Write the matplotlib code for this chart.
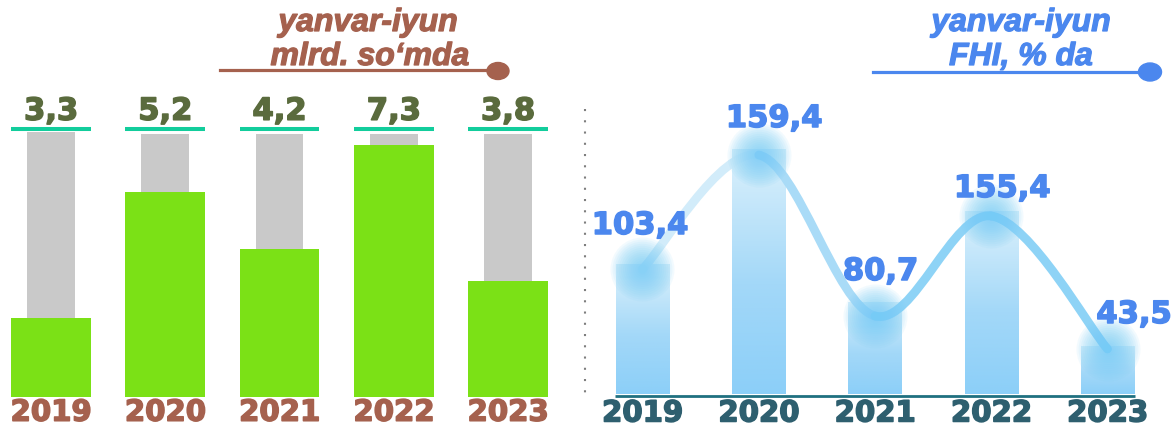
import numpy as np
import matplotlib
matplotlib.use("Agg")
import matplotlib.pyplot as plt
import matplotlib.patheffects as pe
from matplotlib.path import Path
from matplotlib.patches import PathPatch, Ellipse
from matplotlib.colors import LinearSegmentedColormap
from matplotlib.lines import Line2D

# ---------------- data ----------------
years = ["2019", "2020", "2021", "2022", "2023"]
investment = [3.3, 5.2, 4.2, 7.3, 3.8]            # mlrd. so'm (labels)
investment_bar = [29.9, 77.7, 56.1, 95.5, 43.9]   # green bar height, % of grey track
track = [100.4, 99.6, 99.6, 99.6, 99.6]           # grey track height
fhi = [103.4, 159.4, 80.7, 155.4, 43.5]           # FHI, % (labels)
fhi_bar = [130, 245, 92, 183, 48]                 # drawn bar heights
fhi_curve = [125, 239, 78, 178, 45]               # curve anchor heights

W, H = 1174, 428
fig = plt.figure(figsize=(W / 100, H / 100), dpi=100)

BROWN = "#A5614E"
OLIVE = "#5A6B3D"
TEAL = "#12CD9C"
GREEN = "#7BE116"
GREY = "#C9C9C9"
BLUE = "#4B87EE"
SLATE = "#2E5F6F"

def fmt(v):
    return f"{v:.1f}".replace(".", ",")

def heavy(color, w=1.1):
    return [pe.withStroke(linewidth=w, foreground=color)]

NUMFONT = dict(family="DejaVu Sans", fontweight="bold")

# ---------------- left panel ----------------
axL = fig.add_axes([0, 0, 580 / W, 1])
dL, cL, kL, baseL = 114.25, 51, 2.64, 397
axL.set_xlim(-cL / dL, (580 - cL) / dL)
axL.set_ylim((baseL - H) / kL, baseL / kL)
axL.axis("off")
x = np.arange(len(years))
axL.bar(x, track, width=0.42, color=GREY, zorder=1)
axL.bar(x, investment_bar, width=0.70, color=GREEN, zorder=2)
axL.hlines([101.5] * len(x), x - 0.35, x + 0.35, color=TEAL, lw=2.9, zorder=3)
for i, v in enumerate(investment):
    axL.text(i, 105, fmt(v), ha="center", va="baseline", color=OLIVE,
             fontsize=22, path_effects=heavy(OLIVE), **NUMFONT)
    axL.text(i, -9.0, years[i], ha="center", va="baseline", color=BROWN,
             fontsize=21, path_effects=heavy(BROWN), **NUMFONT)

# ---------------- right panel ----------------
axR = fig.add_axes([590 / W, 0, (W - 590) / W, 1])
dR, cR, baseR = 116.25, 642.5, 394
axR.set_xlim((590 - cR) / dR, (W - cR) / dR)
axR.set_ylim(baseR - H, baseR)
axR.axis("off")

cmap = LinearSegmentedColormap.from_list(
    "barg", [(0, "#8CCFF8"), (0.45, "#A3D8F8"), (1, "#DCF1FC")])
grad = np.linspace(0, 1, 256).reshape(-1, 1)
rects = axR.bar(x, fhi_bar, width=0.456, color="none", edgecolor="none")
for r in rects:
    x0, y0 = r.get_x(), r.get_y()
    im = axR.imshow(grad, cmap=cmap, origin="lower", aspect="auto",
                    extent=(x0, x0 + r.get_width(), y0, y0 + r.get_height()),
                    zorder=1)
    im.set_clip_path(r)
axR.set_xlim((590 - cR) / dR, (W - cR) / dR)
axR.set_ylim(baseR - H, baseR)

axR.plot([x[0] - 0.24, x[-1] + 0.24], [-1.5, -1.5], color="#1F7080", lw=2.0,
         solid_capstyle="butt", zorder=2)

# smooth curve (Catmull-Rom -> cubic Bezier, drawn by matplotlib Path)
pts = np.column_stack([x, fhi_curve]).astype(float)
P = np.vstack([pts[0], pts, pts[-1]])
seg_colors = ["#D2ECFA", "#A9DBF7", "#8ED3F6", "#8ED3F6"]
for i in range(len(pts) - 1):
    p0, p1, p2, p3 = P[i], P[i + 1], P[i + 2], P[i + 3]
    c1 = p1 + (p2 - p0) / 6
    c2 = p2 - (p3 - p1) / 6
    path = Path([p1, c1, c2, p2],
                [Path.MOVETO, Path.CURVE4, Path.CURVE4, Path.CURVE4])
    axR.add_patch(PathPatch(path, facecolor="none", edgecolor=seg_colors[i],
                            lw=6.3, capstyle="round", zorder=3))

# glow points
for rad in np.linspace(32, 5, 14):
    axR.scatter(x, fhi_curve, s=(2 * rad * 0.72) ** 2, color="#72CBF6",
                alpha=0.085, linewidths=0, zorder=4)

label_off = [(-2.5, 30), (15.5, 22), (5.5, 22), (11, 14), (26.5, 23)]
for i, v in enumerate(fhi):
    axR.annotate(fmt(v), (i, fhi_bar[i]), xytext=label_off[i],
                 textcoords="offset pixels", ha="center", va="baseline",
                 color=BLUE, fontsize=22, zorder=6, path_effects=heavy(BLUE),
                 **NUMFONT)
    axR.text(i, -27.5, years[i], ha="center", va="baseline", color=SLATE,
             fontsize=21, zorder=6, path_effects=heavy(SLATE), **NUMFONT)

# ---------------- decorations ----------------
def fx(px):
    return px / W

def fy(py):
    return 1 - py / H

TFONT = dict(family="Liberation Sans", fontweight="bold", style="italic",
             fontsize=23)
fig.text(fx(368), fy(31), "yanvar-iyun", ha="center", va="baseline",
         color=BROWN, path_effects=heavy(BROWN, 0.9), **TFONT)
fig.text(fx(370), fy(65), "mlrd. so\u2018mda", ha="center", va="baseline",
         color=BROWN, path_effects=heavy(BROWN, 0.9), **TFONT)
fig.add_artist(Line2D([fx(220), fx(498)], [fy(69.5), fy(69.5)], color=BROWN,
                      lw=2.3, transform=fig.transFigure))
fig.add_artist(Ellipse((fx(498), fy(71)), 22 / W, 17 / H, color=BROWN,
                       transform=fig.transFigure))

fig.text(fx(1021), fy(31), "yanvar-iyun", ha="center", va="baseline",
         color=BLUE, path_effects=heavy(BLUE, 0.9), **TFONT)
fig.text(fx(1021), fy(65), "FHI, % da", ha="center", va="baseline",
         color=BLUE, path_effects=heavy(BLUE, 0.9), **TFONT)
fig.add_artist(Line2D([fx(873), fx(1150)], [fy(72), fy(72)], color=BLUE,
                      lw=2.3, transform=fig.transFigure))
fig.add_artist(Ellipse((fx(1150), fy(72)), 23 / W, 18 / H, color=BLUE,
                       transform=fig.transFigure))

fig.add_artist(Line2D([fx(585), fx(585)], [fy(109), fy(398)], color="#7E7E7E",
                      lw=1.5, linestyle=(0, (1, 4.4)),
                      transform=fig.transFigure))

fig.savefig("out.png", dpi=100)
